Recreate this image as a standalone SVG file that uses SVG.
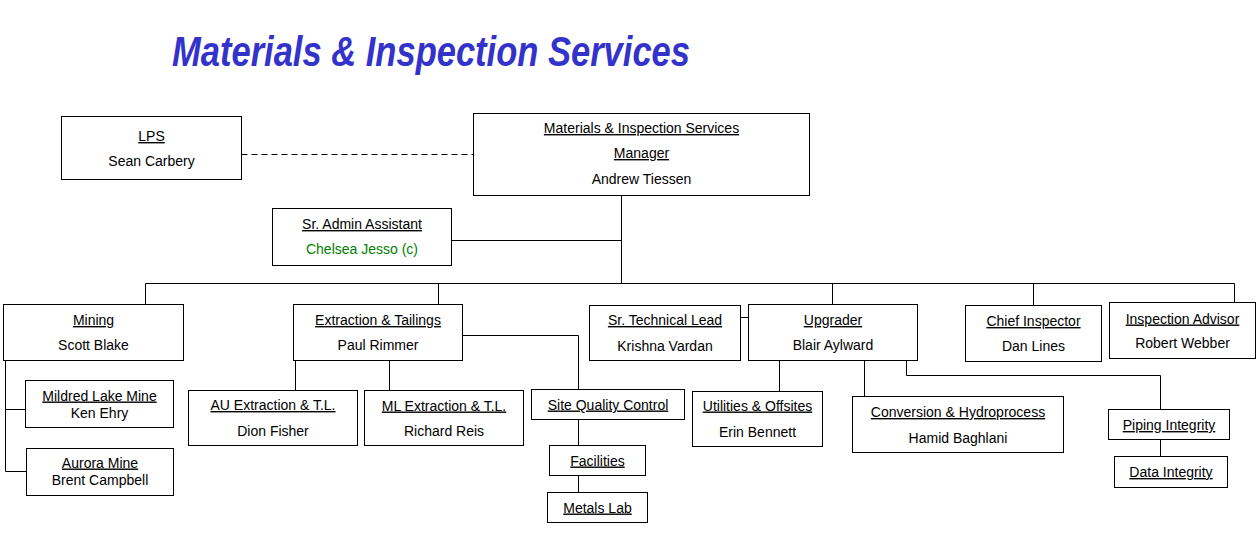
<svg xmlns="http://www.w3.org/2000/svg" width="1259" height="546" viewBox="0 0 1259 546">
<style>
.b{fill:#fff;stroke:#000;stroke-width:1}
.t{font-family:"Liberation Sans",Arial,sans-serif;font-size:14px;fill:#000;text-anchor:middle}
.u{text-decoration:underline}
.g{fill:#008000}
.c{fill:none;stroke:#000;stroke-width:1}
.d{stroke-dasharray:6,4}
.title{font-family:"Liberation Sans",Arial,sans-serif;font-size:42px;font-weight:bold;font-style:italic;fill:#3333CC}
</style>
<rect width="1259" height="546" fill="#fff"/>
<text class="title" x="172" y="66" textLength="518" lengthAdjust="spacingAndGlyphs">Materials &amp; Inspection Services</text>
<g id="connectors">
<path class="c d" d="M241.5 154.5H473"/>
<path class="c" d="M621.5 195V283.5"/>
<path class="c" d="M452 240.5H621.5"/>
<path class="c" d="M145.5 283.5H1234.5"/>
<path class="c" d="M145.5 283.5V304"/>
<path class="c" d="M438.5 283.5V304"/>
<path class="c" d="M832.5 283.5V304"/>
<path class="c" d="M1033.5 283.5V305"/>
<path class="c" d="M1234.5 283.5V302"/>
<path class="c" d="M5.5 360V471.5H26"/>
<path class="c" d="M5.5 409.5H25"/>
<path class="c" d="M295.5 360V390"/>
<path class="c" d="M389.5 360V390"/>
<path class="c" d="M463 335.5H578.5V389"/>
<path class="c" d="M578.5 419V445"/>
<path class="c" d="M578.5 475V492"/>
<path class="c" d="M740 317.5H748"/>
<path class="c" d="M779.5 360V391"/>
<path class="c" d="M864.5 359V396"/>
<path class="c" d="M906.5 360V375.5H1160.5V409"/>
<path class="c" d="M1160.5 439V456"/>
</g>
<g id="lps"><rect class="b" x="61.5" y="116.5" width="180" height="63"/><text class="t u" x="151.5" y="141">LPS</text><text class="t" x="151.5" y="166">Sean Carbery</text></g>
<g id="manager"><rect class="b" x="473.5" y="113.5" width="336" height="82"/><text class="t u" x="641.5" y="133">Materials &amp; Inspection Services</text><text class="t u" x="641.5" y="158">Manager</text><text class="t" x="641.5" y="183.5">Andrew Tiessen</text></g>
<g id="admin"><rect class="b" x="272.5" y="208.5" width="179" height="57"/><text class="t u" x="362" y="229">Sr. Admin Assistant</text><text class="t g" x="362" y="254">Chelsea Jesso (c)</text></g>
<g id="mining"><rect class="b" x="3.5" y="304.5" width="180" height="56"/><text class="t u" x="93.5" y="325">Mining</text><text class="t" x="93.5" y="349.5">Scott Blake</text></g>
<g id="mildred"><rect class="b" x="25.5" y="380.5" width="148" height="47"/><text class="t u" x="99.5" y="400.5">Mildred Lake Mine</text><text class="t" x="99.5" y="417.5">Ken Ehry</text></g>
<g id="aurora"><rect class="b" x="26.5" y="448.5" width="147" height="47"/><text class="t u" x="100" y="467.5">Aurora Mine</text><text class="t" x="100" y="484.5">Brent Campbell</text></g>
<g id="extraction"><rect class="b" x="293.5" y="304.5" width="169" height="56"/><text class="t u" x="378" y="325">Extraction &amp; Tailings</text><text class="t" x="378" y="349.5">Paul Rimmer</text></g>
<g id="au"><rect class="b" x="188.5" y="390.5" width="169" height="55"/><text class="t u" x="273" y="410">AU Extraction &amp; T.L.</text><text class="t" x="273" y="436">Dion Fisher</text></g>
<g id="ml"><rect class="b" x="364.5" y="390.5" width="159" height="55"/><text class="t u" x="444" y="410.5">ML Extraction &amp; T.L.</text><text class="t" x="444" y="436">Richard Reis</text></g>
<g id="sqc"><rect class="b" x="531.5" y="389.5" width="153" height="30"/><text class="t u" x="608" y="409.5">Site Quality Control</text></g>
<g id="facilities"><rect class="b" x="549.5" y="445.5" width="96" height="30"/><text class="t u" x="597.5" y="465.5">Facilities</text></g>
<g id="metals"><rect class="b" x="547.5" y="492.5" width="100" height="30"/><text class="t u" x="597.5" y="512.5">Metals Lab</text></g>
<g id="techlead"><rect class="b" x="589.5" y="305.5" width="151" height="55"/><text class="t u" x="665" y="325">Sr. Technical Lead</text><text class="t" x="665" y="351">Krishna Vardan</text></g>
<g id="upgrader"><rect class="b" x="748.5" y="304.5" width="169" height="56"/><text class="t u" x="833" y="325">Upgrader</text><text class="t" x="833" y="349.5">Blair Aylward</text></g>
<g id="utilities"><rect class="b" x="692.5" y="391.5" width="130" height="55"/><text class="t u" x="757.5" y="410.5">Utilities &amp; Offsites</text><text class="t" x="757.5" y="437">Erin Bennett</text></g>
<g id="conversion"><rect class="b" x="852.5" y="396.5" width="211" height="56"/><text class="t u" x="958" y="417">Conversion &amp; Hydroprocess</text><text class="t" x="958" y="443">Hamid Baghlani</text></g>
<g id="chief"><rect class="b" x="965.5" y="305.5" width="136" height="56"/><text class="t u" x="1033.5" y="326">Chief Inspector</text><text class="t" x="1033.5" y="351">Dan Lines</text></g>
<g id="advisor"><rect class="b" x="1109.5" y="302.5" width="146" height="56"/><text class="t u" x="1182.5" y="323.5">Inspection Advisor</text><text class="t" x="1182.5" y="348">Robert Webber</text></g>
<g id="piping"><rect class="b" x="1108.5" y="409.5" width="121" height="30"/><text class="t u" x="1169" y="430">Piping Integrity</text></g>
<g id="data"><rect class="b" x="1114.5" y="456.5" width="113" height="31"/><text class="t u" x="1171" y="477">Data Integrity</text></g>
</svg>
